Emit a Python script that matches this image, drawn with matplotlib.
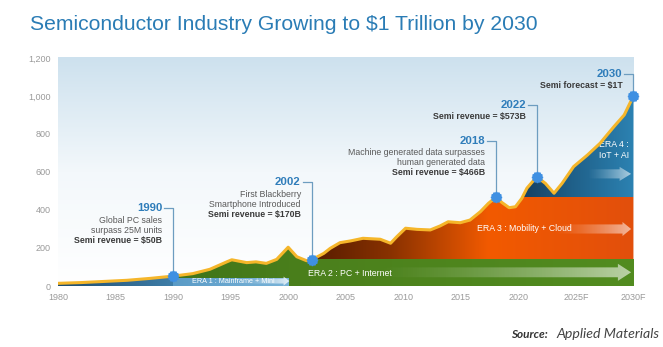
import numpy as np
import matplotlib
matplotlib.use("Agg")
import matplotlib.pyplot as plt
from matplotlib.colors import LinearSegmentedColormap
from matplotlib.patches import Polygon, PathPatch

# --- data (semiconductor revenue, $B) ---
years = [1980, 1982, 1984, 1986, 1988, 1990, 1991.7, 1993.2, 1994.7, 1995.1,
         1996.4, 1997.2, 1998.1, 1999.0, 2000.0, 2000.75, 2001.6, 2002.05, 2003.1, 2003.65,
         2004.5, 2005.4, 2006.5, 2008.0, 2008.9, 2009.45, 2010.2, 2011.2, 2012.35, 2013.2,
         2013.9, 2014.95, 2015.8, 2016.7, 2017.4, 2018.05, 2018.6, 2019.2, 2019.75, 2020.3,
         2020.75, 2021.6, 2022.35, 2023.1, 2023.8, 2024.8, 2026.0, 2027.1, 2028.3, 2029.2, 2030]
revenue = [14, 18, 24, 30, 40, 52, 65, 88, 128, 138,
           123, 127, 119, 140, 204, 154, 133, 138, 172, 198,
           228, 237, 251, 246, 225, 260, 304, 298, 295, 316,
           338, 333, 347, 391, 435, 467, 438, 412, 417, 461,
           515, 575, 540, 488, 540, 628, 689, 751, 838, 900, 1000]

xticks = [1980, 1985, 1990, 1995, 2000, 2005, 2010, 2015, 2020, 2025, 2030]
xtick_labels = ['1980', '1985', '1990', '1995', '2000', '2005', '2010', '2015', '2020', '2025F', '2030F']
yticks = [0, 200, 400, 600, 800, 1000, 1200]

# milestones
ms_x = [1990, 2002.05, 2018.05, 2021.6, 2030]
ms_y = [52, 138, 467, 575, 1000]
ms_label = ['1990', '2002', '2018', '2022', '2030']
ms_label_y = [410, 547, 763, 953, 1116]
ms_text = [
    ['Global PC sales', 'surpass 25M units', 'Semi revenue = $50B'],
    ['First Blackberry', 'Smartphone Introduced', 'Semi revenue = $170B'],
    ['Machine generated data surpasses', 'human generated data', 'Semi revenue = $466B'],
    ['Semi revenue = $573B'],
    ['Semi forecast = $1T'],
]

# era boundaries
era_start = [1980, 1990, 2002, 2019]
era1_band = 40
era2_band = 140
era3_band = 466

YMAX = 1205
XMAX = 2030.05

fig = plt.figure(figsize=(6.63, 3.47), dpi=100)
ax = fig.add_axes([58 / 663, 61 / 347, 576 / 663, 229 / 347])

# background gradient
bg = LinearSegmentedColormap.from_list('bg', ['#ffffff', '#f3f8fb', '#cde1ee'])
ax.imshow(np.linspace(0, 1, 256).reshape(-1, 1), cmap=bg, origin='lower',
          extent=[1980, XMAX, 0, YMAX], aspect='auto', zorder=0)

# area under curve, used as clip
under = ax.fill_between(years, 0, revenue, color='none', lw=0)
under_patch = PathPatch(under.get_paths()[0], transform=ax.transData,
                        facecolor='none', edgecolor='none')
ax.add_patch(under_patch)


def grad_block(x0, x1, y0, y1, stops, z, clip=True):
    cmap = LinearSegmentedColormap.from_list('g', stops)
    im = ax.imshow(np.linspace(0, 1, 256).reshape(1, -1), cmap=cmap, origin='lower',
                   extent=[x0, x1, y0, y1], aspect='auto', zorder=z)
    if clip:
        im.set_clip_path(under_patch)
    return im


# ERA 2 green
grad_block(era_start[1], era_start[2], 0, YMAX, ['#3f7419', '#4b801c'], 1)
grad_block(era_start[2], 2030, 0, era2_band, ['#4b801c', '#528c20'], 1, clip=False)
# ERA 1 blue
grad_block(era_start[0], era_start[1], 0, YMAX, ['#1d4c70', '#3f7ea8'], 2)
grad_block(era_start[1], 2000, 0, era1_band, ['#5a9bc6', '#79b3d8'], 2, clip=False)
# ERA 3 orange
grad_block(era_start[2], 2030, era2_band, era3_band,
           [(0, '#561c00'), (0.25, '#8a3200'), (0.55, '#f25a00'), (1, '#e24f0c')], 2)
# ERA 4 blue
grad_block(era_start[3], 2030, era3_band, YMAX, ['#123656', '#1f5f88', '#2c82b2'], 2)


def grad_arrow(x0, x1, yc, shaft, head, head_len, a1, z=3):
    xh = x1 - head_len
    verts = [(x0, yc - shaft), (xh, yc - shaft), (xh, yc - head), (x1, yc),
             (xh, yc + head), (xh, yc + shaft), (x0, yc + shaft)]
    patch = Polygon(verts, closed=True, facecolor='none', edgecolor='none')
    ax.add_patch(patch)
    img = np.ones((1, 256, 4))
    img[..., 3] = np.linspace(0, 1, 256) ** 1.3 * a1
    im = ax.imshow(img, extent=[x0, x1, yc - head, yc + head], aspect='auto', zorder=z)
    im.set_clip_path(patch)


grad_arrow(1996.0, 2000.1, 26, 13, 24, 0.5, 0.8)
grad_arrow(2007.5, 2029.8, 72, 26, 45, 1.15, 0.6)
grad_arrow(2023.0, 2029.8, 300, 24, 37, 0.75, 0.6)
grad_arrow(2026.0, 2029.8, 590, 24, 37, 1.0, 0.6)

era_font = dict(color='white', family='Liberation Sans', va='center', zorder=4)
ax.text(1991.65, 26, 'ERA 1 : Mainframe + Mini', fontsize=5.2, **era_font)
ax.text(2001.75, 68, 'ERA 2 : PC + Internet', fontsize=6.3, **era_font)
ax.text(2016.4, 300, 'ERA 3 : Mobility + Cloud', fontsize=6.3, **era_font)
ax.text(2027.0, 742, 'ERA 4 :', fontsize=6.3, **era_font)
ax.text(2027.0, 689, 'IoT + AI', fontsize=6.3, **era_font)

# revenue line
ax.plot(years, revenue, color='#f5b62a', lw=2.2, solid_joinstyle='round', zorder=5)

# milestones
for x, y, lab, ly, lines in zip(ms_x, ms_y, ms_label, ms_label_y, ms_text):
    ax.plot([x - 0.8, x, x], [ly, ly, y], color='#6d9dc0', lw=0.9, zorder=6, clip_on=False)
    ax.plot([x], [y], marker=(12, 1, 0), ms=8, color='#3f90e2', zorder=7, clip_on=False)
    ax.plot([x], [y], marker='o', ms=6.5, color='#3f90e2', zorder=7, clip_on=False)
    ax.text(x - 0.95, ly, lab, ha='right', va='center', fontsize=8.2, fontweight='bold',
            color='#2f7dba', family='Liberation Sans', zorder=8)
    for i, line in enumerate(lines):
        last = i == len(lines) - 1
        ax.annotate(line, (x - 0.95, ly), xytext=(0, -12 - 10 * i), textcoords='offset pixels',
                    ha='right', va='center', fontsize=6.3,
                    fontweight='bold' if last else 'normal',
                    color='#3a3a3a' if last else '#5a5a5a',
                    family='Liberation Sans', zorder=8)

ax.set_xlim(1980, XMAX)
ax.set_ylim(0, YMAX)
ax.set_xticks(xticks)
ax.set_xticklabels(xtick_labels, family='Liberation Sans')
ax.set_yticks(yticks)
ax.set_yticklabels([f'{v:,}' for v in yticks], family='Liberation Sans')
ax.tick_params(length=0, labelsize=6.5, labelcolor='#9a9a9a')
ax.tick_params(axis='y', pad=5)
ax.tick_params(axis='x', pad=5)
for s in ax.spines.values():
    s.set_visible(False)

fig.text(30 / 663, 1 - 24 / 347, 'Semiconductor Industry Growing to $1 Trillion by 2030',
         fontsize=15.2, color='#2a7cb5', va='center', ha='left', family='Liberation Sans')
fig.text(511 / 663, 1 - 334 / 347, 'Source:', fontsize=8.5, fontweight='bold', style='italic',
         color='#333333', family='Lato', va='center')
fig.text(556 / 663, 1 - 334 / 347, 'Applied Materials', fontsize=10.2, style='italic',
         color='#444444', family='Lato', va='center', ha='left')

fig.savefig('out.png', dpi=100)
